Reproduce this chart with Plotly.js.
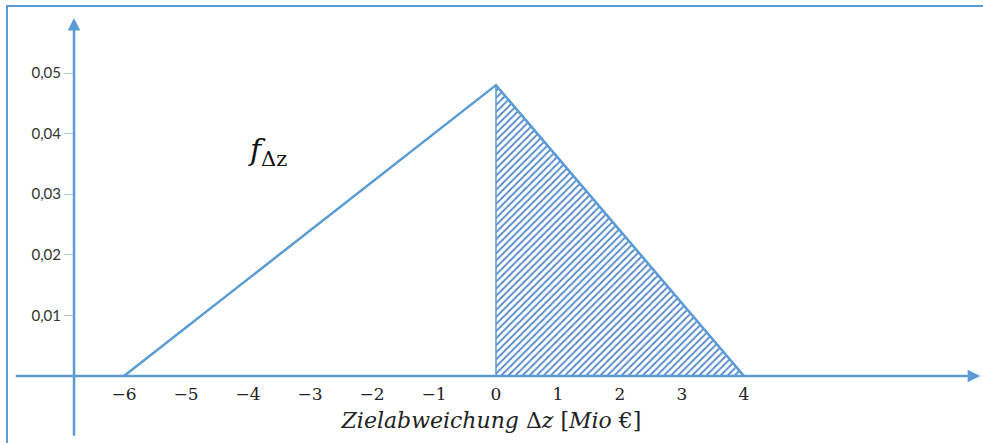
<!DOCTYPE html>
<html>
<head>
<meta charset="utf-8">
<script src="https://cdn.plot.ly/plotly-3.0.1.min.js"></script>
<style>
  html, body { margin: 0; padding: 0; background: #fff; }
  #chart { width: 983px; height: 443px; }
</style>
</head>
<body>
<div id="chart"></div>
<script>
// triangular density of the target deviation
const zX = [-6, 0, 4];
const fY = [0, 0.048, 0];

// shaded part (Δz >= 0)
const hatchX = [0, 0, 4];
const hatchY = [0, 0.048, 0];

const xTicks = [-6, -5, -4, -3, -2, -1, 0, 1, 2, 3, 4];
const yTicks = [0.01, 0.02, 0.03, 0.04, 0.05];

// axis arrow extents (data units)
const xAxisFrom = -7.77, xAxisTo = 7.81;
const yAxisX = -6.806, yAxisFrom = -0.0101, yAxisTo = 0.0591;

const blue = "#5b9bd5";
const hatchBlue = "#5288c8";

const traces = [
  {
    x: hatchX,
    y: hatchY,
    type: "scatter",
    mode: "lines",
    fill: "toself",
    fillcolor: "rgba(0,0,0,0)",
    fillpattern: { shape: "/", fgcolor: hatchBlue, bgcolor: "#ffffff", size: 5, solidity: 0.35 },
    line: { color: blue, width: 1.5 },
  },
  {
    x: zX,
    y: fY,
    type: "scatter",
    mode: "lines",
    line: { color: blue, width: 2.5 },
  },
];

const layout = {
  width: 983,
  height: 443,
  margin: { l: 0, r: 0, t: 0, b: 0 },
  paper_bgcolor: "#ffffff",
  plot_bgcolor: "#ffffff",
  showlegend: false,
  hovermode: false,
  separators: ",.",
  xaxis: {
    range: [-8, 7.855],
    anchor: "free",
    position: 0.1512,
    showgrid: false,
    zeroline: false,
    showline: false,
    tickvals: xTicks,
    ticks: "",
    ticklabelstandoff: 6,
    tickfont: { family: "DejaVu Serif", size: 17, color: "#222" },
    title: {
      text: "<i>Zielabweichung</i> Δ<i>z</i> [<i>Mio</i> €]",
      font: { family: "DejaVu Serif", size: 22, color: "#222" },
      standoff: 9,
    },
  },
  yaxis: {
    range: [-0.01106, 0.06205],
    anchor: "free",
    position: 0.0753,
    showgrid: false,
    zeroline: false,
    showline: false,
    tickvals: yTicks,
    tickformat: ".2f",
    ticks: "outside",
    ticklen: 10,
    tickwidth: 1,
    tickcolor: "#a9c8e8",
    tickfont: { family: "Lato", size: 15, color: "#333" },
  },
  yaxis2: {
    range: [-0.01106, 0.06205],
    overlaying: "y",
    anchor: "free",
    position: 0.0753,
    showgrid: false,
    zeroline: false,
    showline: false,
    tickvals: yTicks,
    ticks: "inside",
    ticklen: 14,
    tickwidth: 1,
    tickcolor: "#a9c8e8",
    showticklabels: false,
  },
  annotations: [
    // x axis arrow
    {
      x: xAxisTo, y: 0, ax: xAxisFrom, ay: 0,
      xref: "x", yref: "y", axref: "x", ayref: "y",
      text: "", showarrow: true, arrowhead: 2, arrowsize: 1, arrowwidth: 2.5, arrowcolor: blue,
    },
    // y axis arrow
    {
      x: yAxisX, y: yAxisTo, ax: yAxisX, ay: yAxisFrom,
      xref: "x", yref: "y", axref: "x", ayref: "y",
      text: "", showarrow: true, arrowhead: 2, arrowsize: 1, arrowwidth: 2.5, arrowcolor: blue,
    },
    {
      x: -3.69, y: 0.037, xref: "x", yref: "y",
      text: "<i>f</i><sub>Δz</sub>",
      showarrow: false,
      font: { family: "DejaVu Serif", size: 30, color: "#111" },
    },
  ],
  shapes: [
    {
      type: "path",
      xref: "paper", yref: "paper",
      path: "M 0.0071 0 L 0.0071 0.9865 L 1 0.9865",
      line: { color: blue, width: 2 },
    },
  ],
};

Plotly.newPlot("chart", traces, layout, { staticPlot: true, displayModeBar: false });
</script>
</body>
</html>
